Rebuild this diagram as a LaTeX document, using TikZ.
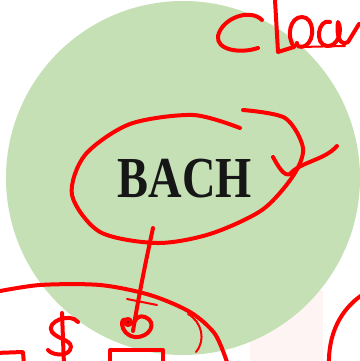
\documentclass[tikz,border=0pt]{standalone}
\usepackage{fontspec}
\newfontfamily\slidefont{Liberation Serif}
\definecolor{leaf}{RGB}{197,224,181}
\definecolor{pen}{RGB}{255,0,0}
\definecolor{blush}{RGB}{255,244,244}
\definecolor{ink}{RGB}{22,22,22}
\begin{document}
\begin{tikzpicture}[x=1pt, y=-1pt, pen/.style={draw=pen, line width=4pt, line cap=round, line join=round},
        thinpen/.style={pen, line width=2pt}]
    \useasboundingbox (0,0) rectangle (359,361);
    % the slide: a pale disc with the word on it
    \fill[blush] (250,290) rectangle (323,361);
    \fill[leaf] (183,178) circle (177pt);
    \node[anchor=base, inner sep=0pt, text=ink, font=\slidefont\bfseries\fontsize{58}{58}\selectfont] (bach) at (185,197)
        {\scalebox{0.8}[1]{BACH}};
    % handwriting: "Clea..." at the top
    \draw[pen] (262,20) .. controls (250,8) and (222,18) .. (218,36) .. controls (216,50) and (240,54) .. (258,48);
    \draw[pen] (275,0) -- (278,52) -- (294,47) .. controls (286,36) and (290,17) .. (302,17)
        .. controls (314,17) and (316,40) .. (305,46) .. controls (300,48) and (296,46) .. (297,43);
    \draw[thinpen] (300,47) -- (345,46);
    \draw[pen] (330,22) .. controls (318,18) and (314,45) .. (327,46) .. controls (338,47) and (343,30) .. (338,22)
        .. controls (336,35) and (340,47) .. (348,42) -- (359,24);
    % the ring round the word, and the tick
    \draw[pen] plot[smooth] coordinates {(243,110) (285,118) (303,148) (293,176) (262,210) (210,234) (157,243)
        (100,232) (72,195) (85,155) (130,124) (193,115) (240,128)};
    \draw[pen] (273,157) .. controls (278,166) and (284,177) .. (290,174) .. controls (300,162) and (325,160) .. (337,146);
    % the stroke down to the loop
    \draw[pen] (153,228) .. controls (145,265) and (138,300) .. (133,331);
    \draw[pen] (128,322) .. controls (120,312) and (118,335) .. (135,337) .. controls (150,338) and (158,322) .. (145,317)
        .. controls (140,315) and (136,318) .. (135,321);
    \fill[pen] (128,322) circle (3pt);
    \draw[thinpen] (127,299) -- (157,305);
    % the arcs and boxes at the bottom
    \draw[pen] plot[smooth] coordinates {(-5,292) (40,285) (100,285) (150,295) (190,312) (215,334) (228,365)};
    \draw[thinpen] (188,314) .. controls (202,322) and (206,340) .. (196,352);
    \draw[pen] (78,322) .. controls (70,312) and (45,322) .. (52,332) .. controls (58,340) and (75,340) .. (70,350)
        .. controls (66,357) and (52,355) .. (48,350);
    \draw[pen] (62,313) -- (64,365);
    \draw[pen] (-5,353) -- (23,352) -- (24,365);
    \draw[pen] (110,365) -- (110,350) -- (163,350) -- (163,365);
    \draw[pen] (329,365) .. controls (328,335) and (340,310) .. (362,295);
\end{tikzpicture}
\end{document}
